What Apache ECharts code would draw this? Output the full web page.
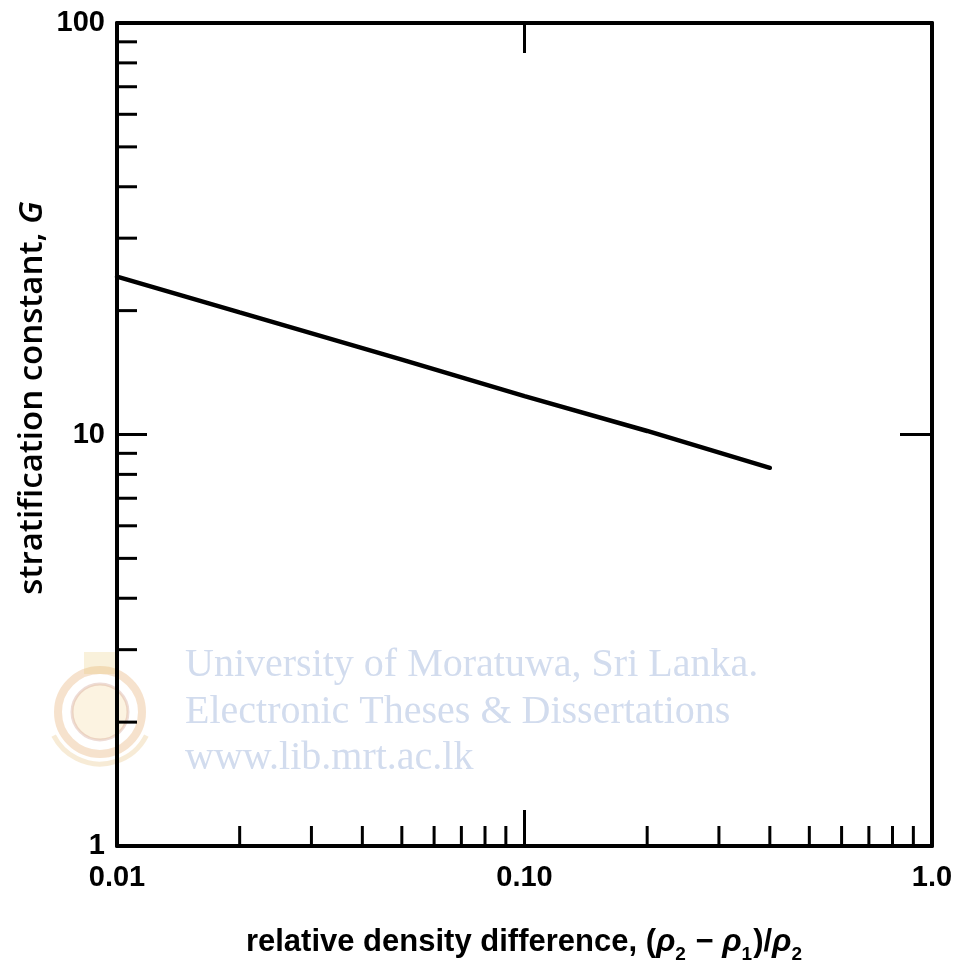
<!DOCTYPE html>
<html>
<head>
<meta charset="utf-8">
<script src="https://cdn.jsdelivr.net/npm/echarts@6/dist/echarts.min.js"></script>
<style>
html,body{margin:0;padding:0;background:#fff;}
#chart{width:960px;height:964px;}
</style>
</head>
<body>
<div id="chart"></div>
<script>
// ---- data ----
const densityDiff = [0.01, 0.02, 0.05, 0.1, 0.2, 0.4];
const stratG = [24.2, 19.8, 15.2, 12.4, 10.2, 8.3];
const xTickLabels = ['0.01', '0.10', '1.0'];
const yTickLabels = ['1', '10', '100'];
const xMinorTicks = [0.02, 0.03, 0.04, 0.05, 0.06, 0.07, 0.08, 0.09, 0.2, 0.3, 0.4, 0.5, 0.6, 0.7, 0.8, 0.9];
const yMinorTicks = [2, 3, 4, 5, 6, 7, 8, 9, 20, 30, 40, 50, 60, 70, 80, 90];
const watermarkLines = ['University of Moratuwa, Sri Lanka.', 'Electronic Theses & Dissertations', 'www.lib.mrt.ac.lk'];

const chart = echarts.init(document.getElementById('chart'));
const FONT = '"Liberation Sans", Arial, sans-serif';
const axisLine = { show: true, lineStyle: { color: '#000', width: 4 } };

function labelFmt(list, base) {
  return function (v) {
    const i = Math.round(Math.log10(v)) - Math.round(Math.log10(base));
    return list[i] || '';
  };
}

function tickRenderer(dir) {
  return function (params, api) {
    const p = api.coord([api.value(0), api.value(1)]);
    const len = 20;
    const shape = dir === 'up'
      ? { x1: p[0], y1: p[1], x2: p[0], y2: p[1] - len }
      : { x1: p[0], y1: p[1], x2: p[0] + len, y2: p[1] };
    return { type: 'line', shape: shape, style: { stroke: '#000', lineWidth: 3 } };
  };
}

chart.setOption({
  animation: false,
  backgroundColor: '#fff',
  grid: { left: 117, right: 28, top: 23, bottom: 118, outerBoundsMode: 'none', containLabel: false },
  xAxis: [
    {
      type: 'log', logBase: 10, min: 0.01, max: 1, position: 'bottom',
      axisLine: axisLine,
      axisTick: { show: true, inside: true, length: 36, lineStyle: { color: '#000', width: 3 } },
      axisLabel: { formatter: labelFmt(xTickLabels, 0.01), color: '#000', fontFamily: FONT, fontSize: 29, fontWeight: 'bold', margin: 17 },
      splitLine: { show: false },
      minorTick: { show: false },
      name: '{n|relative density difference, (}{g|ρ}{s|2}{n| − }{g|ρ}{s|1}{n|)/}{g|ρ}{s|2}',
      nameLocation: 'middle', nameGap: 76,
      nameTextStyle: {
        rich: {
          n: { fontFamily: FONT, fontSize: 31, fontWeight: 'bold', color: '#000', verticalAlign: 'bottom', lineHeight: 36 },
          g: { fontFamily: FONT, fontSize: 32, fontWeight: 'bold', fontStyle: 'italic', color: '#000', verticalAlign: 'bottom', lineHeight: 36 },
          s: { fontFamily: FONT, fontSize: 19, fontWeight: 'bold', color: '#000', verticalAlign: 'bottom', lineHeight: 36, padding: [0, 1, -6, 0] }
        }
      }
    },
    {
      type: 'log', logBase: 10, min: 0.01, max: 1, position: 'top',
      axisLine: axisLine,
      axisTick: { show: true, inside: true, length: 30, lineStyle: { color: '#000', width: 3 } },
      axisLabel: { show: false },
      splitLine: { show: false }
    }
  ],
  yAxis: [
    {
      type: 'log', logBase: 10, min: 1, max: 100, position: 'left',
      axisLine: axisLine,
      axisTick: { show: true, inside: true, length: 30, lineStyle: { color: '#000', width: 3 } },
      axisLabel: { formatter: labelFmt(yTickLabels, 1), color: '#000', fontFamily: FONT, fontSize: 29, fontWeight: 'bold', margin: 12 },
      splitLine: { show: false }
    },
    {
      type: 'log', logBase: 10, min: 1, max: 100, position: 'right',
      axisLine: axisLine,
      axisTick: { show: true, inside: true, length: 32, lineStyle: { color: '#000', width: 3 } },
      axisLabel: { show: false },
      splitLine: { show: false }
    }
  ],
  graphic: [
    {
      type: 'text', rotation: Math.PI / 2,
      x: 33, y: 398,
      style: {
        text: '{n|stratification constant, }{i|G}',
        x: 0, y: 0, textAlign: 'center', textVerticalAlign: 'middle',
        rich: {
          n: { fontFamily: '"Open Sans", sans-serif', fontSize: 33, fontWeight: 600, fill: '#000' },
          i: { fontFamily: '"Open Sans", sans-serif', fontSize: 33, fontWeight: 600, fontStyle: 'italic', fill: '#000' }
        }
      },
      z: 10
    },
    { type: 'circle', shape: { cx: 100, cy: 712, r: 42 }, style: { fill: 'none', stroke: 'rgba(225,160,90,0.3)', lineWidth: 8 }, z: 0 },
    { type: 'circle', shape: { cx: 100, cy: 712, r: 28 }, style: { fill: 'rgba(240,200,120,0.22)', stroke: 'rgba(200,140,120,0.3)', lineWidth: 3 }, z: 0 },
    { type: 'arc', shape: { cx: 100, cy: 712, r: 52, startAngle: Math.PI * 0.15, endAngle: Math.PI * 0.85 }, style: { fill: 'none', stroke: 'rgba(230,190,120,0.3)', lineWidth: 5 }, z: 0 },
    { type: 'rect', shape: { x: 84, y: 652, width: 32, height: 22 }, style: { fill: 'rgba(230,200,110,0.25)' }, z: 0 },
    { type: 'text', x: 185, y: 665, style: { text: watermarkLines[0], fontFamily: '"Liberation Serif", serif', fontSize: 40, fill: '#d2dcee', textVerticalAlign: 'middle' }, z: 0 },
    { type: 'text', x: 185, y: 712, style: { text: watermarkLines[1], fontFamily: '"Liberation Serif", serif', fontSize: 40, fill: '#d2dcee', textVerticalAlign: 'middle' }, z: 0 },
    { type: 'text', x: 185, y: 758, style: { text: watermarkLines[2], fontFamily: '"Liberation Serif", serif', fontSize: 40, fill: '#d2dcee', textVerticalAlign: 'middle' }, z: 0 }
  ],
  series: [
    {
      type: 'line', xAxisIndex: 0, yAxisIndex: 0,
      data: densityDiff.map((x, i) => [x, stratG[i]]),
      showSymbol: false, symbol: 'none', smooth: false,
      lineStyle: { color: '#000', width: 4.5, cap: 'round' },
      z: 5
    },
    {
      type: 'custom', xAxisIndex: 0, yAxisIndex: 0,
      data: xMinorTicks.map(v => [v, 1]),
      renderItem: tickRenderer('up'), clip: false, z: 4
    },
    {
      type: 'custom', xAxisIndex: 0, yAxisIndex: 0,
      data: yMinorTicks.map(v => [0.01, v]),
      renderItem: tickRenderer('right'), clip: false, z: 4
    }
  ]
});
</script>
</body>
</html>
